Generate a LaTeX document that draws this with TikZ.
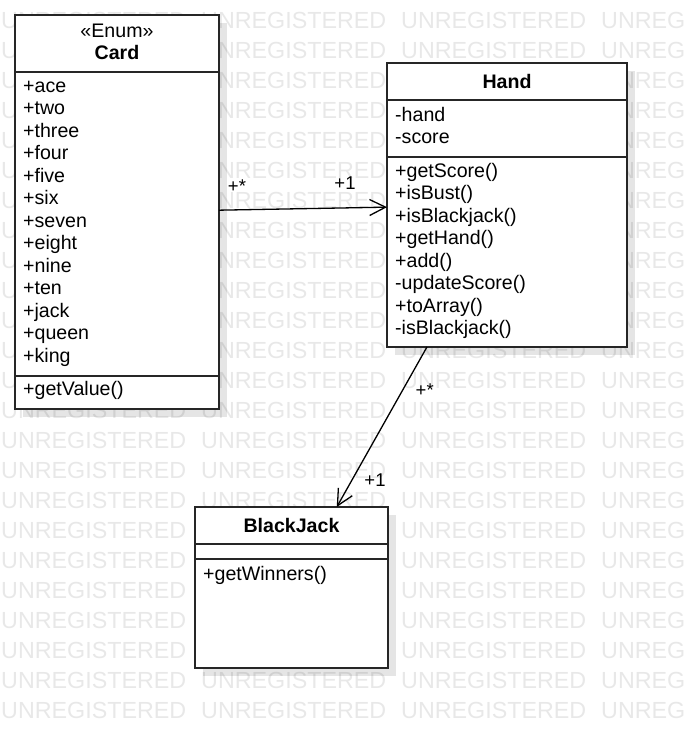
\documentclass[tikz,border=0pt]{standalone}
\usepackage{fontspec}
\setmainfont{Liberation Sans}
\usetikzlibrary{arrows.meta,shadows}

\begin{document}
\begin{tikzpicture}[
    x=1pt, y=-1pt,
    classbox/.style={rectangle, draw=black!85, line width=1.5pt, fill=white, inner sep=0pt, outer sep=0pt, drop shadow={shadow xshift=8pt, shadow yshift=-8pt, fill=black, opacity=0.1}},
    sep/.style={draw=black!85, line width=1.5pt},
    member/.style={anchor=base west, align=left, inner sep=0pt, font=\fontsize{19.6}{22.5}\selectfont},
    title/.style={anchor=base, inner sep=0pt, font=\fontsize{19.6}{22.5}\selectfont\bfseries},
    stereo/.style={anchor=base, inner sep=0pt, font=\fontsize{19.6}{22.5}\selectfont},
    mult/.style={inner sep=0pt, font=\fontsize{18.5}{20}\selectfont},
    assoc/.style={-{Straight Barb[length=16pt,width=16pt]}, line width=1.3pt},
    watermark/.style={anchor=west, inner sep=0pt, text=black!9, font=\fontsize{23.3}{26}\selectfont}
]
\useasboundingbox (0,0) rectangle (687,729);

% watermark
\begin{scope}
\clip (0,0) rectangle (687,729);
\foreach \r in {0,...,23}
  \foreach \c in {0,...,3}
    \node[watermark] (wm-\r-\c) at (1+200*\c, 20+30*\r) {UNREGISTERED};
\end{scope}

% Card (member lists sit on the baseline of their last line)
\node[classbox, minimum width=204pt, minimum height=394pt] (card) at (117,212) {};
\node[stereo] (card-stereo) at ([yshift=-22pt]card.north) {«Enum»};
\node[title] (card-name) at ([yshift=-44pt]card.north) {Card};
\draw[sep] ([yshift=-57pt]card.north west) -- ([yshift=-57pt]card.north east);
\node[member] (card-attrs) at ([xshift=8pt,yshift=-347pt]card.north west) {+ace\\+two\\+three\\+four\\+five\\+six\\+seven\\+eight\\+nine\\+ten\\+jack\\+queen\\+king};
\draw[sep] ([yshift=-361pt]card.north west) -- ([yshift=-361pt]card.north east);
\node[member] (card-ops) at ([xshift=8pt,yshift=-380pt]card.north west) {+getValue()};

% Hand
\node[classbox, minimum width=240pt, minimum height=284pt] (hand) at (507,205) {};
\node[title] (hand-name) at ([yshift=-25pt]hand.north) {Hand};
\draw[sep] ([yshift=-37pt]hand.north west) -- ([yshift=-37pt]hand.north east);
\node[member] (hand-attrs) at ([xshift=8pt,yshift=-80.5pt]hand.north west) {-hand\\-score};
\draw[sep] ([yshift=-94pt]hand.north west) -- ([yshift=-94pt]hand.north east);
\node[member] (hand-ops) at ([xshift=8pt,yshift=-271.5pt]hand.north west) {+getScore()\\+isBust()\\+isBlackjack()\\+getHand()\\+add()\\-updateScore()\\+toArray()\\-isBlackjack()};

% BlackJack
\node[classbox, minimum width=193pt, minimum height=161pt] (blackjack) at (291.5,587.5) {};
\node[title] (blackjack-name) at ([yshift=-25pt]blackjack.north) {BlackJack};
\draw[sep] ([yshift=-37pt]blackjack.north west) -- ([yshift=-37pt]blackjack.north east);
\draw[sep] ([yshift=-52pt]blackjack.north west) -- ([yshift=-52pt]blackjack.north east);
\node[member] (blackjack-ops) at ([xshift=8pt,yshift=-73pt]blackjack.north west) {+getWinners()};

% associations
\draw[assoc] (card) -- node[mult, pos=0.107, yshift=24pt] (card-mult) {+*} node[mult, pos=0.75, yshift=25pt] (hand-mult1) {+1} (hand);
\draw[assoc] (hand) -- node[mult, pos=0.269, xshift=22pt] (hand-mult2) {+*} node[mult, pos=0.831, xshift=23pt] (blackjack-mult) {+1} (blackjack);

\end{tikzpicture}
\end{document}
